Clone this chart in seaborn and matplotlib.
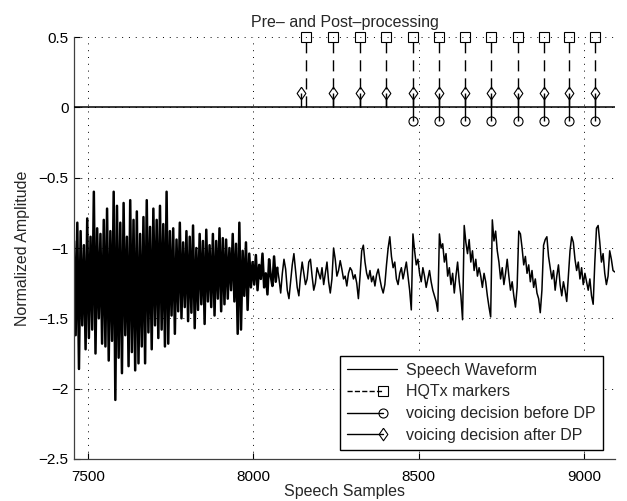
import numpy as np
import pandas as pd
import matplotlib

matplotlib.use("Agg")
import matplotlib.pyplot as plt
import seaborn as sns
from matplotlib.lines import Line2D
from matplotlib.legend_handler import HandlerBase

# ---------------------------------------------------------------
# data
# ---------------------------------------------------------------
sample_start = 7458
sample_step = 5

# speech waveform (offset by about -1.2), one value every 5 samples
waveform = [
    # 7458 - 7548
    -0.95, -1.62, -0.82, -1.86, -0.88, -1.55, -0.98, -1.72, -0.79, -1.64,
    -0.92, -1.58, -0.60, -1.75, -0.86, -1.50, -0.90, -1.68, -0.80,
    # 7553 - 7663
    -1.70, -0.72, -1.80, -0.88, -1.66, -0.60, -2.08, -0.70, -1.78, -0.82,
    -1.89, -0.68, -1.62, -0.92, -1.84, -0.66, -1.74, -0.80, -1.87, -0.74,
    -1.82, -0.90, -1.70,
    # 7668 - 7748
    -0.78, -1.82, -0.66, -1.60, -0.85, -1.72, -0.72, -1.55, -0.80, -1.64,
    -0.70, -1.58, -0.83, -1.70, -0.60, -1.68, -0.88,
    # 7753 - 7868
    -1.48, -0.86, -1.61, -0.94, -1.45, -0.82, -1.50, -0.96, -1.42, -0.88,
    -1.52, -0.92, -1.46, -0.84, -1.57, -1.00, -1.44, -0.90, -1.40, -0.95,
    -1.54, -0.87, -1.38, -0.98,
    # 7873 - 7913
    -1.42, -0.90, -1.48, -0.95, -1.36, -0.86, -1.45, -0.93, -1.40,
    # 7918 - 7993
    -0.94, -1.36, -1.00, -1.30, -0.90, -1.38, -0.97, -1.61, -0.82, -1.58,
    -1.02, -1.34, -0.96, -1.44, -1.04, -1.28,
    # 7998 - 8073
    -1.10, -1.26, -1.05, -1.30, -1.12, -1.22, -1.04, -1.28, -1.18, -1.33,
    -1.08, -1.20, -1.27, -1.06, -1.24, -1.14,
    # 8078 - 8198
    -1.22, -1.32, -1.18, -1.08, -1.15, -1.30, -1.36, -1.24, -1.12, -1.04,
    -1.16, -1.28, -1.34, -1.20, -1.10, -1.18, -1.26, -1.22, -1.10, -1.08,
    -1.20, -1.30, -1.25, -1.14, -1.18,
    # 8203 - 8258
    -1.22, -1.14, -1.26, -1.18, -1.10, -1.24, -1.32, -1.22, -1.00, -1.08,
    -1.20, -1.16,
    # 8263 - 8683
    -1.09, -1.15, -1.22, -1.20, -1.27, -1.18, -1.14, -1.16, -1.22, -1.19,
    -1.25, -1.36, -1.20, -1.02, -0.98, -1.10, -1.18, -1.22, -1.16, -1.24,
    -1.20, -1.27, -1.19, -1.15, -1.22, -1.28, -1.32, -1.26, -1.12, -1.00,
    -0.92, -1.06, -1.14, -1.10, -1.22, -1.26, -1.18, -1.14, -1.22, -1.16,
    -1.10, -1.20, -1.30, -1.44, -0.90, -1.02, -1.12, -1.08, -1.18, -1.24,
    -1.14, -1.20, -1.28, -1.22, -1.16, -1.24, -1.30, -1.34, -1.38, -1.45,
    -0.90, -1.00, -0.97, -1.10, -1.04, -1.20, -1.14, -1.26, -1.18, -1.32,
    -1.20, -1.10, -1.24, -1.34, -1.51, -0.84, -0.96, -1.04, -0.94, -1.10,
    -1.02, -1.16, -1.08, -1.20, -1.14,
    # 8688 - 9093
    -1.20, -1.28, -1.18, -1.24, -1.34, -1.42, -1.49, -0.80, -0.95, -0.88,
    -1.02, -1.10, -1.22, -1.14, -1.26, -1.18, -1.08, -1.20, -1.30, -1.24,
    -1.34, -1.42, -1.28, -0.88, -0.90, -1.00, -1.12, -1.06, -1.18, -1.12,
    -1.24, -1.16, -1.28, -1.22, -1.32, -1.36, -1.46, -1.30, -0.98, -0.94,
    -0.92, -1.06, -1.14, -1.22, -1.16, -1.30, -1.20, -1.12, -1.26, -1.34,
    -1.24, -1.30, -1.38, -1.20, -1.02, -0.92, -0.96, -1.08, -1.16, -1.10,
    -1.22, -1.14, -1.26, -1.18, -1.24, -1.30, -1.22, -1.34, -1.40, -1.10,
    -0.86, -0.84, -0.96, -1.10, -1.04, -1.18, -1.26, -1.20, -1.02, -1.08,
    -1.16, -1.17,
]

# the loud onset is drawn as a dense black band
dense_until = 8073

hqtx_samples = [8160, 8240, 8322, 8402, 8482, 8562, 8641, 8720, 8800, 8878, 8956, 9034]
hqtx_level = 0.5

after_dp_samples = [8145, 8240, 8322, 8402, 8482, 8562, 8641, 8720, 8800, 8878, 8956, 9034]
after_dp_level = 0.1

before_dp_samples = [8482, 8562, 8641, 8720, 8800, 8878, 8956, 9034]
before_dp_level = -0.1

x_range = (7458, 9094)
y_range = (-2.5, 0.5)
xtick_values = [7500, 8000, 8500, 9000]
ytick_values = [0.5, 0, -0.5, -1, -1.5, -2, -2.5]
ytick_labels = ["0.5", "0", "\u22120.5", "\u22121", "\u22121.5", "\u22122", "\u22122.5"]

title = "Pre\u2013 and Post\u2013processing"
xlabel = "Speech Samples"
ylabel = "Normalized Amplitude"
legend_labels = [
    "Speech Waveform",
    "HQTx markers",
    "voicing decision before DP",
    "voicing decision after DP",
]

# ---------------------------------------------------------------
# style
# ---------------------------------------------------------------
sns.set_style("ticks")
plt.rcParams["font.family"] = ["Liberation Sans", "DejaVu Sans"]
plt.rcParams["axes.unicode_minus"] = True

DIAMOND = [(0, 1), (0.7, 0), (0, -1), (-0.7, 0), (0, 1)]
GRID_LS = (0, (1, 6))
DASH_LS = (0, (8, 5))


class EndMarkerHandler(HandlerBase):
    """MATLAB-like legend entry: line with the marker near its right end."""

    def create_artists(self, legend, orig_handle, xdescent, ydescent,
                       width, height, fontsize, trans):
        y = height / 2 - ydescent
        x0 = -xdescent
        x1 = width - xdescent
        has_marker = orig_handle.get_marker() not in (None, "None", "", " ")
        xe = x0 + 0.72 * width if has_marker else x1
        line = Line2D([x0, xe], [y, y], color=orig_handle.get_color(),
                      linestyle=orig_handle.get_linestyle(),
                      linewidth=orig_handle.get_linewidth())
        line.set_transform(trans)
        artists = [line]
        if has_marker:
            mk = Line2D([xe], [y], marker=orig_handle.get_marker(),
                        markersize=orig_handle.get_markersize(),
                        markerfacecolor="none", markeredgecolor="k",
                        markeredgewidth=0.8, linestyle="none")
            mk.set_transform(trans)
            artists.append(mk)
        return artists


# ---------------------------------------------------------------
# figure
# ---------------------------------------------------------------
samples = sample_start + sample_step * np.arange(len(waveform))
df = pd.DataFrame({"sample": samples, "amplitude": waveform})
dense = df[df["sample"] <= dense_until]
calm = df[df["sample"] >= dense_until]

fig, ax = plt.subplots(figsize=(6.27, 5.01), dpi=100)
fig.subplots_adjust(left=74 / 627, right=615 / 627, top=1 - 37 / 501, bottom=1 - 459 / 501)

sns.lineplot(data=dense, x="sample", y="amplitude", color="k", linewidth=1.8,
             estimator=None, sort=False, ax=ax)
sns.lineplot(data=calm, x="sample", y="amplitude", color="k", linewidth=1.1,
             estimator=None, sort=False, ax=ax)

# baseline of the stems
ax.axhline(0, color="k", linewidth=1.1, zorder=3)

# HQTx markers: dashed stems with squares
ax.vlines(hqtx_samples, 0, hqtx_level, colors="k", linestyles=[DASH_LS],
          linewidth=1.0, zorder=3)
ax.plot(hqtx_samples, [hqtx_level] * len(hqtx_samples), linestyle="none",
        marker="s", markersize=7, markerfacecolor="none", markeredgecolor="k",
        markeredgewidth=0.8, zorder=4, clip_on=False)

# voicing decision after DP: solid stems with diamonds
ax.vlines(after_dp_samples, 0, after_dp_level, colors="k", linewidth=1.0, zorder=3)
ax.plot(after_dp_samples, [after_dp_level] * len(after_dp_samples), linestyle="none",
        marker=DIAMOND, markersize=9, markerfacecolor="none", markeredgecolor="k",
        markeredgewidth=0.8, zorder=4)

# voicing decision before DP: solid stems with circles
ax.vlines(before_dp_samples, 0, before_dp_level, colors="k", linewidth=1.0, zorder=3)
ax.plot(before_dp_samples, [before_dp_level] * len(before_dp_samples), linestyle="none",
        marker="o", markersize=6.5, markerfacecolor="none", markeredgecolor="k",
        markeredgewidth=0.8, zorder=4)

ax.set_xlim(*x_range)
ax.set_ylim(*y_range)
ax.set_xticks(xtick_values)
ax.set_xticklabels([str(v) for v in xtick_values])
ax.set_yticks(ytick_values)
ax.set_yticklabels(ytick_labels)
ax.tick_params(direction="in", length=4, width=0.8, labelsize=11, colors="k", pad=4)
ax.tick_params(axis="x", pad=8)

ax.grid(True, color="k", linestyle=GRID_LS, linewidth=0.7)
ax.set_axisbelow(True)

sns.despine(ax=ax)
for side in ("left", "bottom"):
    ax.spines[side].set_color("0.25")
    ax.spines[side].set_linewidth(0.9)

ax.set_title(title, fontsize=11.5, pad=7)
ax.set_xlabel(xlabel, fontsize=11.5, labelpad=0)
ax.set_ylabel(ylabel, fontsize=11.5, labelpad=6)

handles = [
    Line2D([], [], color="k", linewidth=0.9),
    Line2D([], [], color="k", linewidth=1.0, linestyle=DASH_LS, marker="s", markersize=7),
    Line2D([], [], color="k", linewidth=1.0, marker="o", markersize=6.5),
    Line2D([], [], color="k", linewidth=1.0, marker=DIAMOND, markersize=9),
]
leg = ax.legend(handles, legend_labels, loc="lower right",
                bbox_to_anchor=(0.977, 0.0213), bbox_transform=ax.transAxes,
                borderaxespad=0, fontsize=11.5, handlelength=3.1, handletextpad=0.55,
                labelspacing=0.42, borderpad=0.45, fancybox=False, framealpha=1,
                edgecolor="k", handler_map={Line2D: EndMarkerHandler()})
leg.get_frame().set_linewidth(1.0)

fig.savefig("out.png", dpi=100)
plt.close(fig)
